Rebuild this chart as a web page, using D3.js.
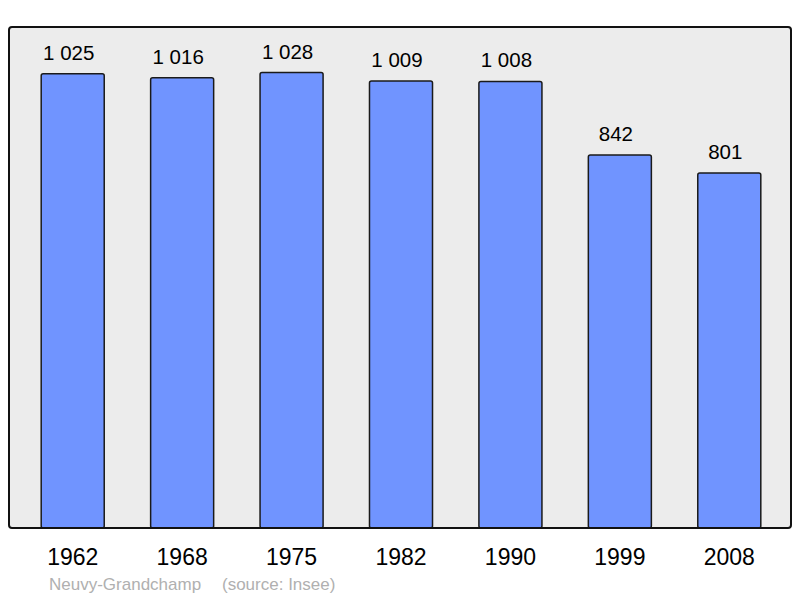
<!DOCTYPE html>
<html>
<head>
<meta charset="utf-8">
<script src="https://cdn.jsdelivr.net/npm/d3@7"></script>
<style>
  body { margin: 0; background: #fff; }
  text { font-family: "Liberation Sans", Arial, sans-serif; }
</style>
</head>
<body>
<div class="chart"></div>
<script>
var years = ["1962", "1968", "1975", "1982", "1990", "1999", "2008"];
var population = [1025, 1016, 1028, 1009, 1008, 842, 801];
var commune = "Neuvy-Grandchamp";
var source = "(source: Insee)";

var svgWidth = 800;
var svgHeight = 598;

var frame = { left: 9, top: 27, right: 791, bottom: 528 };

var svg = d3.select(".chart")
  .append("svg")
  .attr("width", svgWidth)
  .attr("height", svgHeight);

// background panel
svg.append("rect")
  .attr("x", frame.left)
  .attr("y", frame.top)
  .attr("width", frame.right - frame.left)
  .attr("height", frame.bottom - frame.top)
  .attr("rx", 3)
  .attr("fill", "#ececec");

var xScale = d3.scaleBand()
  .domain(years)
  .range([18, 784])
  .paddingInner(0.424)
  .paddingOuter(0.212);

var yScale = d3.scaleLinear()
  .domain([0, 1028 * 1.1])
  .range([frame.bottom, frame.top]);

var fmt = function(v) {
  return d3.format(",")(v).replace(/,/g, " ");
};

svg.selectAll("rect.bar")
  .data(population)
  .enter()
  .append("rect")
  .attr("class", "bar")
  .attr("x", function(d, i) { return xScale(years[i]); })
  .attr("y", function(d) { return yScale(d); })
  .attr("width", xScale.bandwidth())
  .attr("height", function(d) { return frame.bottom - yScale(d); })
  .attr("rx", 2)
  .attr("fill", "#7094ff")
  .attr("stroke", "#1a1a1a")
  .attr("stroke-width", 1.5);

// value labels sit a little left of the bar centre, like the original
svg.selectAll("text.value")
  .data(population)
  .enter()
  .append("text")
  .attr("class", "value")
  .attr("x", function(d, i) { return xScale(years[i]) + xScale.bandwidth() / 2 - 4; })
  .attr("y", function(d) { return yScale(d) - 14; })
  .attr("text-anchor", "middle")
  .attr("font-size", "20.5px")
  .attr("fill", "#000")
  .text(fmt);

// frame border on top
svg.append("rect")
  .attr("x", frame.left)
  .attr("y", frame.top)
  .attr("width", frame.right - frame.left)
  .attr("height", frame.bottom - frame.top)
  .attr("rx", 3)
  .attr("fill", "none")
  .attr("stroke", "#111")
  .attr("stroke-width", 2);

// x axis labels
var xAxis = d3.axisBottom(xScale).tickSize(0).tickPadding(0);
var axisG = svg.append("g")
  .attr("transform", "translate(0," + 565 + ")")
  .call(xAxis);
axisG.select(".domain").remove();
axisG.selectAll("text")
  .attr("dy", 0)
  .attr("font-size", "23px")
  .attr("fill", "#000")
  .attr("font-family", "Liberation Sans, Arial, sans-serif");

svg.append("text")
  .attr("x", 49)
  .attr("y", 590)
  .attr("font-size", "17px")
  .attr("fill", "#b0b0b0")
  .text(commune);

svg.append("text")
  .attr("x", 222)
  .attr("y", 590)
  .attr("font-size", "17px")
  .attr("fill", "#b0b0b0")
  .text(source);
</script>
</body>
</html>
